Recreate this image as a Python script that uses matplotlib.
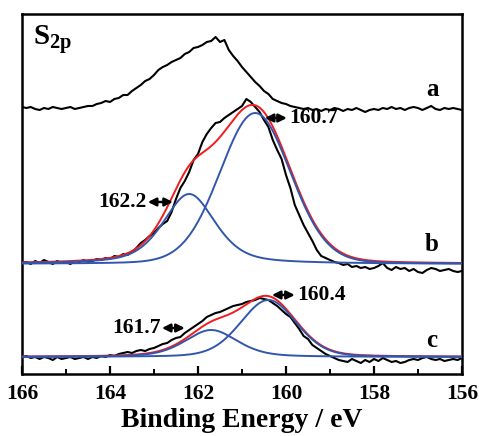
import numpy as np
import matplotlib.pyplot as plt
from matplotlib.ticker import MultipleLocator

plt.rcParams['font.family'] = 'Liberation Serif'
plt.rcParams['font.weight'] = 'bold'
plt.rcParams['mathtext.fontset'] = 'custom'
plt.rcParams['mathtext.bf'] = 'Liberation Serif:bold'
plt.rcParams['mathtext.rm'] = 'Liberation Serif:bold'

# binding energy grid of the scans (eV), 166 -> 156 in 0.1 steps
energy = np.round(np.arange(166.0, 155.95, -0.1), 1)

# raw S 2p spectra (a.u., already stacked)
spec_a = [267, 266, 267, 265, 264, 266, 265, 267, 266, 265,
          266, 267, 265, 266, 267, 268, 268, 270, 271, 273,
          272, 275, 276, 279, 279, 283, 286, 289, 293, 295,
          299, 304, 307, 309, 312, 314, 316, 320, 322, 326,
          327, 329, 332, 333, 337, 332, 334, 324, 318, 313,
          307, 302, 297, 292, 288, 283, 280, 275, 273, 271,
          270, 268, 267, 266, 265, 266, 264, 265, 263, 265,
          264, 266, 265, 263, 265, 264, 266, 264, 262, 264,
          265, 264, 266, 265, 267, 265, 266, 264, 266, 267,
          266, 264, 266, 268, 265, 264, 266, 265, 266, 265,
          264]
spec_b = [111, 112, 110, 113, 111, 114, 112, 110, 113, 111,
          112, 110, 113, 112, 114, 112, 113, 115, 114, 116,
          115, 118, 117, 120, 119, 122, 126, 131, 134, 138,
          141, 146, 150, 153, 162, 175, 186, 193, 202, 214,
          220, 232, 240, 246, 251, 252, 256, 259, 262, 265,
          268, 275, 272, 267, 262, 254, 247, 234, 224, 215,
          199, 186, 169, 159, 149, 141, 133, 124, 118, 116,
          114, 112, 111, 109, 110, 107, 108, 106, 107, 105,
          106, 108, 111, 106, 104, 107, 105, 106, 103, 105,
          102, 101, 104, 106, 105, 103, 104, 105, 103, 102,
          103]
spec_c = [17, 18, 16, 17, 15, 17, 16, 14, 17, 15,
          16, 17, 15, 16, 17, 15, 17, 16, 18, 17,
          19, 18, 20, 21, 22, 21, 23, 24, 23, 25,
          26, 28, 30, 31, 34, 36, 37, 41, 44, 47,
          50, 53, 57, 59, 61, 62, 64, 66, 68, 69,
          70, 72, 73, 74, 76, 75, 74, 71, 68, 64,
          60, 57, 51, 45, 38, 35, 29, 26, 23, 20,
          18, 16, 14, 13, 12, 15, 13, 11, 14, 12,
          15, 13, 16, 14, 12, 13, 11, 12, 14, 15,
          14, 16, 17, 15, 14, 15, 13, 14, 15, 14,
          16]

# fitted components: centre (eV), height, FWHM (eV), Lorentzian fraction
peaks_b = [(160.7, 151, 1.9, 0.1), (162.2, 70, 1.4, 0.5)]
peaks_c = [(160.4, 57, 1.5, 0.2), (161.7, 27, 1.4, 0.4)]
base_b = 110
base_c = 17

# peak position labels: text, arrow start/end (eV), height, text side
labels_b = [("160.7", 160.48, 159.98, 256, "right"), ("162.2", 162.57, 163.14, 172, "left")]
labels_c = [("160.4", 160.32, 159.80, 79, "right"), ("161.7", 162.30, 162.82, 46, "left")]

BLUE = '#3356ad'
RED = '#f21c1c'


def pseudo_voigt(x, centre, height, fwhm, eta):
    g = np.exp(-4 * np.log(2) * ((x - centre) / fwhm) ** 2)
    l = 1.0 / (1.0 + (2 * (x - centre) / fwhm) ** 2)
    return height * ((1 - eta) * g + eta * l)


fig = plt.figure(figsize=(4.79, 4.36), dpi=100)
ax = fig.add_axes([0.0459, 0.1422, 0.9186, 0.8257])

xs = np.linspace(166, 156, 600)

ax.plot(energy, spec_a, color='k', lw=1.5)

for spec, peaks, base in [(spec_b, peaks_b, base_b), (spec_c, peaks_c, base_c)]:
    ax.plot(energy, spec, color='k', lw=1.5, zorder=2)
    comps = [pseudo_voigt(xs, *p) for p in peaks]
    ax.plot(xs, base + sum(comps), color=RED, lw=1.4, zorder=3)
    for c in comps:
        ax.plot(xs, base + c, color=BLUE, lw=1.4, zorder=4)

for text, x0, x1, y, side in labels_b + labels_c:
    ax.annotate('', xy=(x1, y), xytext=(x0, y),
                arrowprops=dict(arrowstyle='<|-|>', color='k', lw=1.8,
                                mutation_scale=12, shrinkA=0, shrinkB=0))
    if side == "right":
        ax.text(x1 - 0.06, y, text, ha='left', va='center', fontsize=15.5, fontweight='bold')
    else:
        ax.text(x1 + 0.03, y, text, ha='right', va='center', fontsize=15.5, fontweight='bold')

for lab, y in [('a', 284), ('b', 129), ('c', 34)]:
    ax.text(156.68, y, lab, ha='center', va='center', fontsize=18, fontweight='bold')

ax.text(165.75, 334, r'$\mathbf{S_{2p}}$', ha='left', va='center', fontsize=21)

ax.set_xlim(166, 156)
ax.set_ylim(0, 360)
ax.set_yticks([])
ax.xaxis.set_major_locator(MultipleLocator(2))
ax.xaxis.set_minor_locator(MultipleLocator(1))
ax.tick_params(axis='x', which='major', direction='in', length=6, width=1.6,
               labelsize=15.5, pad=7)
ax.tick_params(axis='x', which='minor', direction='in', length=3.5, width=1.4)
for lbl in ax.get_xticklabels():
    lbl.set_fontweight('bold')
for s in ax.spines.values():
    s.set_linewidth(1.8)

ax.set_xlabel('Binding Energy / eV', fontsize=20, fontweight='bold', labelpad=3)

fig.savefig('out.png', dpi=100)
